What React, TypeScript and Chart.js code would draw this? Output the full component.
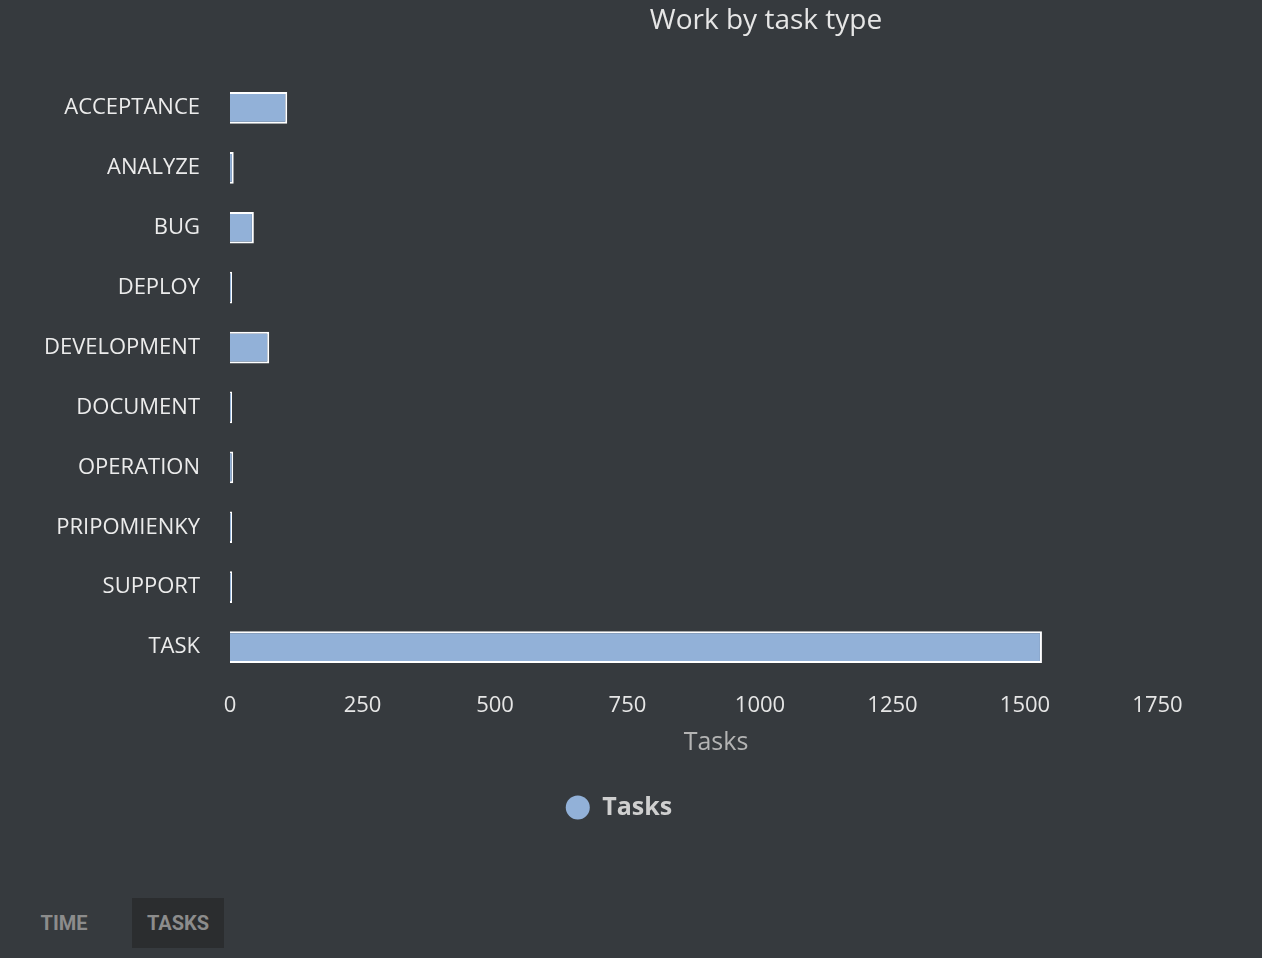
import React, { useEffect, useRef } from "react";
import { Chart, registerables } from "chart.js";

Chart.register(...registerables);

const categories = [
  "ACCEPTANCE",
  "ANALYZE",
  "BUG",
  "DEPLOY",
  "DEVELOPMENT",
  "DOCUMENT",
  "OPERATION",
  "PRIPOMIENKY",
  "SUPPORT",
  "TASK",
];
const taskCounts = [108, 7, 45, 2, 74, 2, 6, 2, 2, 1532];
const tickValues = [0, 250, 500, 750, 1000, 1250, 1500, 1750];
const chartTitle = "Work by task type";
const seriesName = "Tasks";
const axisTitle = "Tasks";
const tabLabels = ["TIME", "TASKS"];

const BG = "rgb(54,58,62)";
const BAR = "#92b1d8";

const titlePlugin = {
  id: "customTitle",
  afterDraw(chart: any) {
    const ctx = chart.ctx;
    ctx.save();
    ctx.font = "28px 'Open Sans'";
    ctx.fillStyle = "#e6e6e6";
    ctx.textAlign = "center";
    ctx.textBaseline = "middle";
    ctx.fillText(chartTitle, 766, 21);
    ctx.restore();
  },
};

export default function App() {
  const ref = useRef<HTMLCanvasElement | null>(null);

  useEffect(() => {
    document.body.style.margin = "0";
    document.body.style.background = BG;
    if (!ref.current) return;
    const chart = new Chart(ref.current, {
      type: "bar",
      data: {
        labels: categories,
        datasets: [
          {
            label: seriesName,
            data: taskCounts,
            backgroundColor: BAR,
            borderColor: "#ffffff",
            borderWidth: 2,
            barPercentage: 0.53,
            categoryPercentage: 1,
            minBarLength: 2,
          },
        ],
      },
      options: {
        indexAxis: "y",
        animation: false,
        responsive: false,
        maintainAspectRatio: false,
        layout: { padding: { top: 78, right: 60, bottom: 50, left: 36 } },
        scales: {
          x: {
            min: 0,
            max: 1834,
            grid: { display: false, drawTicks: false },
            border: { display: false },
            afterBuildTicks(scale: any) {
              scale.ticks = tickValues.map((v) => ({ value: v }));
            },
            afterFit(scale: any) {
              scale.height = 108;
            },
            ticks: {
              color: "#e6e6e6",
              font: { family: "'Open Sans'", size: 22 },
              padding: 16,
              maxRotation: 0,
              callback: (v: any) => String(v),
            },
            title: {
              display: true,
              text: axisTitle,
              color: "#b4b4b4",
              font: { family: "'Open Sans'", size: 25 },
              padding: { top: 0, bottom: 27 },
            },
          },
          y: {
            grid: { display: false, drawTicks: false },
            border: { display: false },
            afterFit(scale: any) {
              scale.width = 194;
            },
            ticks: {
              color: "#ececec",
              font: { family: "'Open Sans'", size: 22 },
              padding: 30,
            },
          },
        },
        plugins: {
          title: { display: false },
          tooltip: { enabled: false },
          legend: {
            display: true,
            position: "bottom",
            labels: {
              usePointStyle: true,
              pointStyle: "circle",
              boxWidth: 24,
              boxHeight: 17,
              padding: 10,
              color: "#cfcfcf",
              font: { family: "'Open Sans'", size: 25, weight: "bold" },
              generateLabels(chart: any) {
                const items = Chart.defaults.plugins.legend.labels.generateLabels(chart);
                return items.map((it: any) => ({
                  ...it,
                  fillStyle: BAR,
                  strokeStyle: BAR,
                  lineWidth: 0,
                }));
              },
            },
          },
        },
      },
      plugins: [titlePlugin],
    } as any);
    return () => chart.destroy();
  }, []);

  return (
    <div style={{ width: 1262, height: 958, background: BG, position: "relative", overflow: "hidden" }}>
      <canvas ref={ref} width={1262} height={880} style={{ display: "block" }} />
      {tabLabels.map((t, i) => (
        <div
          key={t}
          style={{
            position: "absolute",
            left: 18 + i * 114,
            top: 898,
            width: 92,
            height: 50,
            lineHeight: "50px",
            textAlign: "center",
            fontFamily: "Roboto",
            fontWeight: 700,
            fontSize: 20,
            color: "#8c8c8c",
            background: i === 1 ? "#2b2d2f" : "transparent",
          }}
        >
          {t}
        </div>
      ))}
    </div>
  );
}
